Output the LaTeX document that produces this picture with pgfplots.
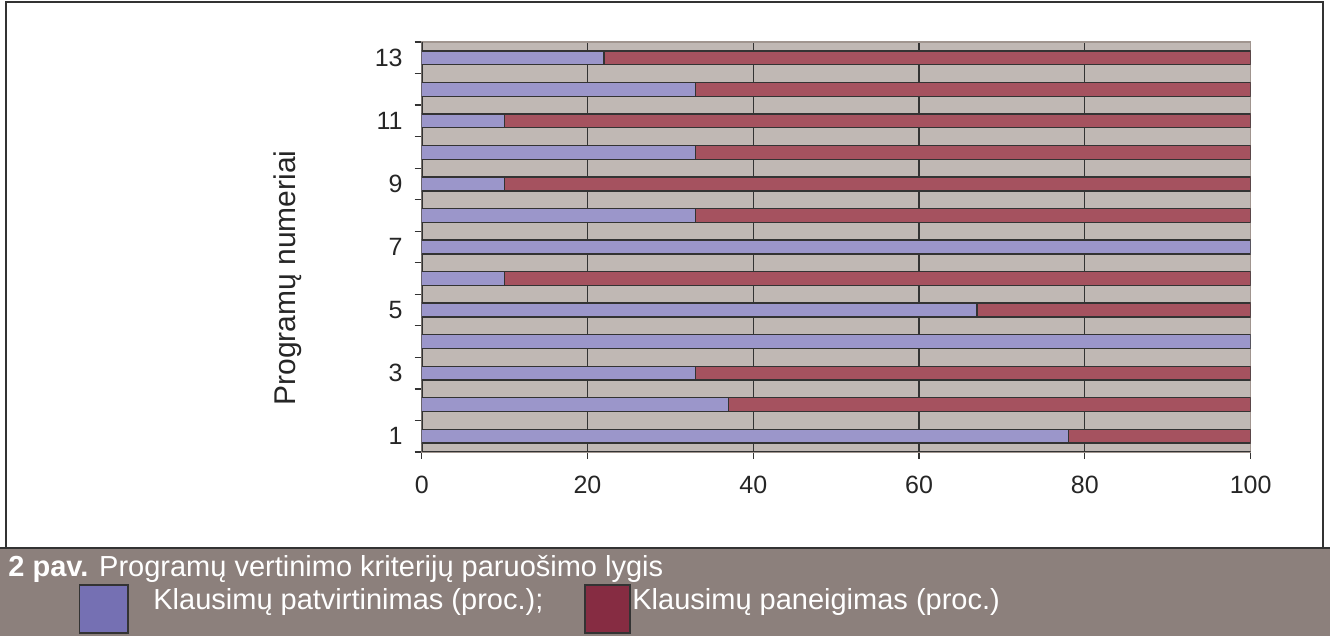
\documentclass[border=0pt]{standalone}
\usepackage{pgfplots}
\pgfplotsset{compat=1.18}
\usepackage{fontspec}
\setmainfont{Liberation Sans}
\definecolor{cBlue}{HTML}{9B96CA}
\definecolor{cRed}{HTML}{A5525F}
\definecolor{cBg}{HTML}{C0B8B4}
\definecolor{cBand}{HTML}{8C807C}
\definecolor{cLegBlue}{HTML}{7570B3}
\definecolor{cLegRed}{HTML}{862C42}
\definecolor{cEdge}{HTML}{333333}
\definecolor{cBorder}{HTML}{A0958F}
\begin{document}
\begin{tikzpicture}
\path[use as bounding box] (0,0) rectangle (665pt,318pt);
% caption band and frame
\fill[cBand] (0,0) rectangle (665pt,44pt);
\draw[cEdge, line width=1pt] (3pt,44pt) -- (3pt,316.8pt) -- (661.5pt,316.8pt) -- (661.5pt,44pt);
\draw[cEdge, line width=1pt] (0,44pt) -- (665pt,44pt);
\begin{axis}[
  at={(210.85pt,92pt)}, anchor=south west,
  scale only axis, width=414.45pt, height=205pt,
  xbar stacked, bar width=0.44,
  xmin=0, xmax=100, ymin=0.5, ymax=13.5,
  xtick={0,20,...,100},
  ytick={0.5,1.5,...,13.5}, yticklabels={},
  extra y ticks={1,3,5,7,9,11,13},
  extra y tick labels={1,3,5,7,9,11,13},
  extra y tick style={major tick length=0pt, yticklabel style={xshift=-6pt}},
  tick pos=left, tick align=outside, major tick length=3.5pt,
  tick style={draw=cEdge, line width=0.6pt},
  xmajorgrids, major grid style={draw=cEdge, line width=0.6pt},
  axis line style={draw=cBorder, line width=0.8pt},
  axis background/.style={fill=cBg},
  tick label style={font=\fontsize{12.5}{14}\selectfont, text=black!85},
  xticklabel style={yshift=-5pt},
  /pgf/number format/assume math mode=true,
  every axis plot/.append style={draw=cEdge, line width=0.7pt},
]
\addplot[fill=cBlue] coordinates {(78,1) (37,2) (33,3) (100,4) (67,5) (10,6) (100,7) (33,8) (10,9) (33,10) (10,11) (33,12) (22,13)};
\addplot[fill=cRed] coordinates {(22,1) (63,2) (67,3) (0,4) (33,5) (90,6) (0,7) (67,8) (90,9) (67,10) (90,11) (67,12) (78,13)};
\draw[cEdge, line width=0.9pt] (rel axis cs:0,1) -- (rel axis cs:0,0) -- (rel axis cs:1,0);
\end{axis}
% y label
\node[rotate=90, font=\fontsize{15}{18}\selectfont, text=black!85] at (144pt,179pt) {Programų numeriai};
% caption
\node[anchor=base west, text=white, font=\fontsize{14.5}{17}\selectfont, inner sep=0pt] at (4pt,29.6pt) {\textbf{2 pav.} Programų vertinimo kriterijų paruošimo lygis};
\fill[cLegBlue, draw=cEdge, line width=0.8pt] (39.8pt,1.5pt) rectangle (64pt,25.5pt);
\node[anchor=base west, text=white, font=\fontsize{14.5}{17}\selectfont, inner sep=0pt] at (76.5pt,13pt) {Klausimų patvirtinimas (proc.);};
\fill[cLegRed, draw=cEdge, line width=0.8pt] (292.5pt,1.5pt) rectangle (315pt,25.5pt);
\node[anchor=base west, text=white, font=\fontsize{14.5}{17}\selectfont, inner sep=0pt] at (316pt,13pt) {Klausimų paneigimas (proc.)};
\end{tikzpicture}
\end{document}
